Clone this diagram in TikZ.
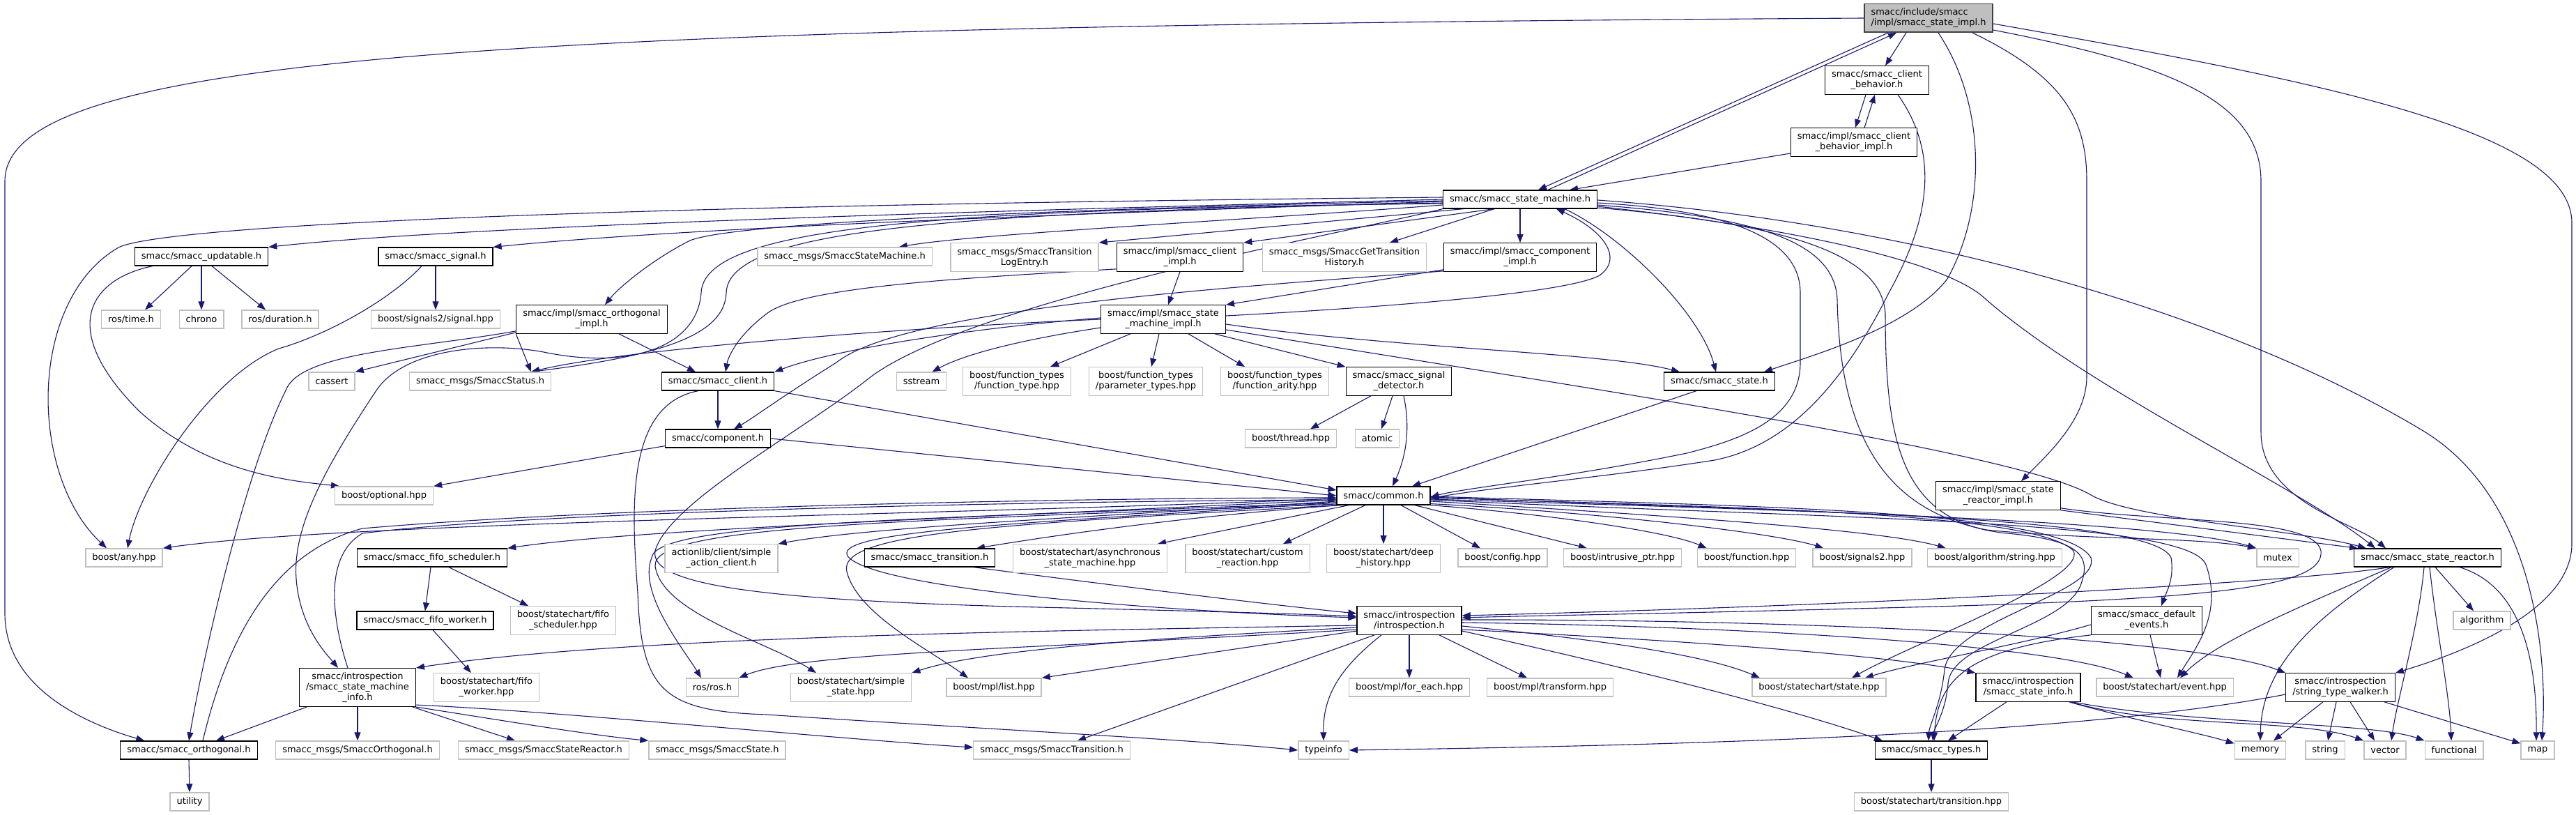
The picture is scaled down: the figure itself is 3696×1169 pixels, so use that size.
\documentclass[tikz,border=0pt]{standalone}
\usepackage{fontspec}
\setmainfont{DejaVu Sans}
\usetikzlibrary{arrows.meta}
\usetikzlibrary{backgrounds}
\definecolor{edgeblue}{HTML}{191970}
\definecolor{extgray}{HTML}{BFBFBF}
\tikzset{hdr/.style = {draw=black, line width=1.2pt, fill=white, inner xsep=9.5pt, inner ysep=1pt,
                       minimum height=26pt, align=center, font=\fontsize{13}{15}\selectfont}}
\tikzset{sys/.style = {hdr, draw=extgray, line width=1.4pt}}
\tikzset{rootbox/.style = {hdr, fill=extgray, draw=black!75, line width=1.5pt, align=left}}
\tikzset{two/.style = {minimum height=40.5pt}}
\tikzset{three/.style = {minimum height=55pt}}
\tikzset{inc/.style = {draw=edgeblue, line width=1.1pt, -{Triangle[length=12pt, width=9pt]}}}

\begin{document}
\begin{tikzpicture}[x=1pt, y=-1pt]
      \useasboundingbox (0,0) rectangle (3696,1169);

      \node[rootbox, two] (root) at (2767,26) {smacc/include/smacc\\/impl/smacc\_state\_impl.h};
      \node[hdr, two] (cb) at (2693,115) {smacc/smacc\_client\\\_behavior.h};
      \node[hdr, two] (cbi) at (2660,204) {smacc/impl/smacc\_client\\\_behavior\_impl.h};
      \node[hdr] (sm) at (2181,286) {smacc/smacc\_state\_machine.h};

      \node[hdr] (upd) at (289,368) {smacc/smacc\_updatable.h};
      \node[hdr] (sig) at (625,368) {smacc/smacc\_signal.h};
      \node[sys] (msm) at (1212,368) {smacc\_msgs/SmaccStateMachine.h};
      \node[sys, two] (tle) at (1470,369) {smacc\_msgs/SmaccTransition\\LogEntry.h};
      \node[hdr, two] (cli) at (1693,369) {smacc/impl/smacc\_client\\\_impl.h};
      \node[sys, two] (gth) at (1929,369) {smacc\_msgs/SmaccGetTransition\\History.h};
      \node[hdr, two] (cmi) at (2181,369) {smacc/impl/smacc\_component\\\_impl.h};

      \node[sys] (rtime) at (188,458) {ros/time.h};
      \node[sys] (chrono) at (289,458) {chrono};
      \node[sys] (rdur) at (402,458) {ros/duration.h};
      \node[sys] (s2sig) at (625,458) {boost/signals2/signal.hpp};
      \node[hdr, two] (orti) at (849,458) {smacc/impl/smacc\_orthogonal\\\_impl.h};
      \node[hdr, two] (smi) at (1669,458) {smacc/impl/smacc\_state\\\_machine\_impl.h};

      \node[sys] (cassert) at (476,547) {cassert};
      \node[sys] (status) at (689,547) {smacc\_msgs/SmaccStatus.h};
      \node[hdr] (client) at (1030,547) {smacc/smacc\_client.h};
      \node[sys] (sstream) at (1322,547) {sstream};
      \node[sys, two] (ftype) at (1459,547) {boost/function\_types\\/function\_type.hpp};
      \node[sys, two] (ptypes) at (1644,547) {boost/function\_types\\/parameter\_types.hpp};
      \node[sys, two] (farity) at (1829,547) {boost/function\_types\\/function\_arity.hpp};
      \node[hdr, two] (sigdet) at (2007,547) {smacc/smacc\_signal\\\_detector.h};
      \node[hdr] (state) at (2467,547) {smacc/smacc\_state.h};

      \node[hdr] (comp) at (1030,629) {smacc/component.h};
      \node[sys] (thread) at (1852,629) {boost/thread.hpp};
      \node[sys] (atomic) at (1976,629) {atomic};

      \node[sys] (optional) at (551,711) {boost/optional.hpp};
      \node[hdr] (common) at (1985,711) {smacc/common.h};
      \node[hdr, two] (srimpl) at (2867,711) {smacc/impl/smacc\_state\\\_reactor\_impl.h};

      \node[sys] (any) at (178,800) {boost/any.hpp};
      \node[hdr] (fifosch) at (620,800) {smacc/smacc\_fifo\_scheduler.h};
      \node[sys, two] (actionlib) at (1035,801) {actionlib/client/simple\\\_action\_client.h};
      \node[hdr] (trans) at (1334,800) {smacc/smacc\_transition.h};
      \node[sys, two] (async) at (1564,801) {boost/statechart/asynchronous\\\_state\_machine.hpp};
      \node[sys, two] (custom) at (1790,801) {boost/statechart/custom\\\_reaction.hpp};
      \node[sys, two] (deep) at (1985,801) {boost/statechart/deep\\\_history.hpp};
      \node[sys] (config) at (2156,800) {boost/config.hpp};
      \node[sys] (intr) at (2328,800) {boost/intrusive\_ptr.hpp};
      \node[sys] (func) at (2506,800) {boost/function.hpp};
      \node[sys] (signals2) at (2672,800) {boost/signals2.hpp};
      \node[sys] (algstr) at (2862,800) {boost/algorithm/string.hpp};
      \node[sys] (mutex) at (3268,800) {mutex};
      \node[hdr] (sreact) at (3483,800) {smacc/smacc\_state\_reactor.h};

      \node[hdr] (fifowork) at (610,890) {smacc/smacc\_fifo\_worker.h};
      \node[sys, two] (bfifosch) at (808,890) {boost/statechart/fifo\\\_scheduler.hpp};
      \node[hdr, two] (intro) at (2022,890) {smacc/introspection\\/introspection.h};
      \node[hdr, two] (defev) at (3080,890) {smacc/smacc\_default\\\_events.h};
      \node[sys] (algorithm) at (3561,890) {algorithm};

      \node[hdr, three] (smin) at (513,986) {smacc/introspection\\/smacc\_state\_machine\\\_info.h};
      \node[sys, two] (bfifowork) at (698,986) {boost/statechart/fifo\\\_worker.hpp};
      \node[sys] (rosh) at (1022,986) {ros/ros.h};
      \node[sys, two] (simple) at (1221,986) {boost/statechart/simple\\\_state.hpp};
      \node[sys] (mpllist) at (1426,986) {boost/mpl/list.hpp};
      \node[sys] (foreach) at (2022,986) {boost/mpl/for\_each.hpp};
      \node[sys] (transform) at (2224,986) {boost/mpl/transform.hpp};
      \node[sys] (bstate) at (2610,986) {boost/statechart/state.hpp};
      \node[hdr, two] (sinfo) at (2910,986) {smacc/introspection\\/smacc\_state\_info.h};
      \node[sys] (event) at (3106,986) {boost/statechart/event.hpp};
      \node[hdr, two] (walker) at (3358,986) {smacc/introspection\\/string\_type\_walker.h};

      \node[hdr] (orth) at (271,1076) {smacc/smacc\_orthogonal.h};
      \node[sys] (morth) at (513,1076) {smacc\_msgs/SmaccOrthogonal.h};
      \node[sys] (msr) at (780,1076) {smacc\_msgs/SmaccStateReactor.h};
      \node[sys] (mstate) at (1029,1076) {smacc\_msgs/SmaccState.h};
      \node[sys] (mtrans) at (1509,1076) {smacc\_msgs/SmaccTransition.h};
      \node[sys] (typeinfo) at (1899,1076) {typeinfo};
      \node[hdr] (types) at (2771,1076) {smacc/smacc\_types.h};
      \node[sys] (memory) at (3243,1076) {memory};
      \node[sys] (string) at (3336,1076) {string};
      \node[sys] (vector) at (3422,1076) {vector};
      \node[sys] (functional) at (3521,1076) {functional};
      \node[sys] (map) at (3641,1076) {map};

      \node[sys] (utility) at (272,1150) {utility};
      \node[sys] (btrans) at (2771,1150) {boost/statechart/transition.hpp};

      \begin{scope}[on background layer]
      \fill[white] (0,0) rectangle (3696,1169);

      \draw[inc] ([xshift=-58pt]root.south) -- ([xshift=26pt]sm.north);
      \draw[inc] ([xshift=40pt]sm.north) -- ([xshift=-46pt]root.south);
      \draw[inc] ([xshift=-32pt]root.south) -- ([xshift=12pt]cb.north);
      \draw[inc] ([xshift=14pt]root.south) .. controls (2850,150) and (2850,300) .. (2794,400) .. controls (2740,470) and (2600,510) .. ([xshift=64pt]state.north);
      \draw[inc] ([xshift=63pt]root.south) .. controls (2960,110) and (2994,170) .. (2994,260) -- (2994,540) .. controls (2994,600) and (2940,650) .. ([xshift=33pt]srimpl.north);
      \draw[inc] ([yshift=-17pt]root.east) .. controls (3100,90) and (3244,140) .. (3244,260) -- (3244,620) .. controls (3244,720) and (3380,750) .. ([xshift=-60pt]sreact.north);
      \draw[inc] ([yshift=-8pt]root.east) .. controls (3350,120) and (3690,190) .. (3690,320) -- (3690,780) .. controls (3690,880) and (3520,940) .. (walker.north east);
      \draw[inc] (root.west) .. controls (700,38) and (7,80) .. (7,260) -- (7,880) .. controls (7,990) and (130,1040) .. ([xshift=35pt]orth.north west);

      \draw[inc] ([xshift=-16pt]cb.south) -- ([xshift=2pt]cbi.north);
      \draw[inc] ([xshift=15pt]cbi.north) -- ([xshift=-3pt]cb.south);
      \draw[inc] ([yshift=-16pt]cbi.west) -- ([xshift=-40pt]sm.north east);
      \draw[inc] ([xshift=30pt]cb.south) .. controls (2790,230) and (2760,330) .. (2710,420) .. controls (2640,560) and (2560,640) .. (2460,660) .. controls (2300,685) and (2130,700) .. ([yshift=-4pt]common.east);

      \draw[inc] (sm.west) .. controls (1600,298) and (700,320) .. (upd.north east);
      \draw[inc] ([yshift=-3pt]sm.west) .. controls (1600,305) and (1000,325) .. (sig.north east);
      \draw[inc] ([yshift=-8pt]sm.west) .. controls (1800,315) and (1400,335) .. ([xshift=-48pt]msm.north east);
      \draw[inc] ([xshift=30pt]sm.south west) -- (tle.north east);
      \draw[inc] ([xshift=-37pt]sm.south) -- (cli.north east);
      \draw[inc] ([xshift=-37pt]sm.south) -- ([xshift=65pt]gth.north);
      \draw[inc] (sm.south) -- (cmi.north);
      \draw[inc] ([yshift=3pt]sm.west) .. controls (800,295) and (230,325) .. (170,355) .. controls (40,430) and (40,680) .. ([xshift=-25pt]any.north);
      \draw[inc] ([yshift=-2pt]sm.west) .. controls (1500,300) and (1050,320) .. (990,345) .. controls (940,370) and (890,410) .. ([xshift=19pt]orti.north);
      \draw[inc] ([yshift=-5pt]sm.west) .. controls (1350,305) and (1045,330) .. (1042,420) .. controls (1040,480) and (950,510) .. ([xshift=73pt]status.north);
      \draw[inc] ([yshift=-6pt]sm.west) .. controls (1300,300) and (1010,330) .. (1006,420) .. controls (1000,500) and (900,530) .. (780,505) .. controls (700,490) and (580,500) .. (540,560) .. controls (460,680) and (420,760) .. (425,830) .. controls (430,900) and (470,940) .. ([xshift=-28pt]smin.north);
      \draw[inc] (sm.south west) .. controls (1950,330) and (1400,430) .. (1250,540) .. controls (1150,620) and (960,720) .. (940,790) .. controls (930,840) and (1100,860) .. (1450,870) .. controls (1700,876) and (1850,880) .. ([yshift=6pt]intro.west);
      \draw[inc] ([xshift=64pt]sm.south) .. controls (2330,340) and (2440,450) .. ([xshift=-5pt]state.north);
      \draw[inc] ([yshift=-5pt]sm.east) .. controls (2450,300) and (2583,330) .. (2583,420) -- (2583,520) .. controls (2583,600) and (2500,630) .. (2420,650) .. controls (2250,685) and (2100,700) .. ([yshift=-2pt]common.east);
      \draw[inc] ([yshift=-8pt]sm.east) .. controls (2500,310) and (2633,340) .. (2636,430) .. controls (2640,620) and (2700,730) .. (2850,760) .. controls (3000,775) and (3150,770) .. (mutex.north west);
      \draw[inc] ([yshift=-12pt]sm.east) .. controls (2550,320) and (2700,360) .. (2705,450) .. controls (2705,640) and (2730,750) .. (2880,765) .. controls (2990,775) and (3000,800) .. (2985,840) .. controls (2960,900) and (2800,920) .. (2795,980) .. controls (2792,1020) and (2775,1045) .. ([xshift=2pt]types.north);
      \draw[inc] ([yshift=-10pt]sm.east) .. controls (2600,330) and (2800,380) .. (2850,430) .. controls (3000,560) and (3300,700) .. ([xshift=-75pt]sreact.north);
      \draw[inc] ([yshift=-1pt]sm.east) .. controls (2750,320) and (3200,450) .. (3480,620) .. controls (3640,720) and (3655,950) .. ([xshift=6pt]map.north);

      \draw[inc] ([yshift=5pt]smi.east) .. controls (2000,440) and (2250,420) .. (2295,395) .. controls (2330,370) and (2300,330) .. ([xshift=52pt]sm.south);
      \draw[inc] ([yshift=-7pt]smi.east) .. controls (2000,500) and (2300,505) .. ([xshift=-57pt]state.north);
      \draw[inc] ([yshift=-15pt]smi.east) .. controls (2300,560) and (2900,650) .. (3000,710) .. controls (3060,745) and (3300,760) .. ([xshift=-88pt]sreact.north);
      \draw[inc] ([yshift=2pt]smi.west) .. controls (1400,470) and (1200,500) .. (client.north east);
      \draw[inc] (smi.west) .. controls (1300,470) and (900,500) .. ([xshift=73pt]status.north);
      \draw[inc] ([yshift=-12pt]smi.west) .. controls (1480,485) and (1390,505) .. ([xshift=-21pt]sstream.north east);
      \draw[inc] ([xshift=-47pt]smi.south) -- ([xshift=48pt]ftype.north);
      \draw[inc] ([xshift=-6pt]smi.south) -- ([xshift=8pt]ptypes.north);
      \draw[inc] ([xshift=36pt]smi.south) -- ([xshift=-43pt]farity.north);
      \draw[inc] ([xshift=-16pt]smi.south east) -- (sigdet.north west);

      \draw[inc] (cli.south) -- ([xshift=7pt]smi.north);
      \draw[inc] ([yshift=4pt]cli.south west) .. controls (1400,398) and (1150,410) .. (1100,450) .. controls (1060,480) and (1045,510) .. ([xshift=11pt]client.north);
      \draw[inc] ([yshift=3pt]cmi.south west) -- (smi.north east);
      \draw[inc] ([yshift=1pt]cmi.south west) .. controls (1800,410) and (1300,440) .. (1200,520) .. controls (1120,570) and (1080,600) .. ([xshift=23pt]comp.north);

      \draw[inc] ([yshift=2pt]orti.south west) -- (cassert.north east);
      \draw[inc] (orti.south west) -- ([xshift=73pt]status.north);
      \draw[inc] ([xshift=39pt]orti.south) -- ([xshift=-32pt]client.north);
      \draw[inc] ([yshift=4pt]orti.south west) .. controls (600,500) and (430,505) .. (410,560) .. controls (350,680) and (290,950) .. (orth.north);

      \draw[inc] ([xshift=-14pt]upd.south) -- ([xshift=20pt]rtime.north);
      \draw[inc] (upd.south) -- (chrono.north);
      \draw[inc] ([xshift=15pt]upd.south) -- ([xshift=-21pt]rdur.north);
      \draw[inc] ([xshift=-70pt]upd.south) .. controls (130,400) and (80,470) .. (200,590) .. controls (300,680) and (420,690) .. ([xshift=-64pt]optional.north);
      \draw[inc] (sig.south) -- (s2sig.north);
      \draw[inc] ([xshift=-20pt]sig.south) .. controls (560,430) and (470,480) .. (400,500) .. controls (300,540) and (200,700) .. ([xshift=5pt]any.north);

      \draw[inc] (client.south) -- (comp.north);
      \draw[inc] (client.south east) -- ([yshift=8pt]common.west);
      \draw[inc] ([xshift=-28pt]client.south) .. controls (900,580) and (905,720) .. (915,850) .. controls (920,990) and (950,1020) .. (1100,1025) .. controls (1400,1045) and (1700,1060) .. (typeinfo.west);
      \draw[inc] ([yshift=3pt]comp.south west) -- (optional.north east);
      \draw[inc] (comp.east) -- (common.west);
      \draw[inc] ([xshift=-40pt]sigdet.south) -- ([xshift=28pt]thread.north);
      \draw[inc] ([xshift=-9pt]sigdet.south) -- ([xshift=6pt]atomic.north);
      \draw[inc] ([xshift=7pt]sigdet.south) .. controls (2025,620) and (2015,660) .. ([xshift=13pt]common.north);
      \draw[inc] ([xshift=-33pt]state.south) -- ([xshift=41pt]common.north);
      \draw[inc] (srimpl.south east) -- ([xshift=-100pt]sreact.north);
      \draw[inc] ([yshift=3pt]srimpl.south east) .. controls (3100,750) and (3320,740) .. (3330,790) .. controls (3335,840) and (3200,860) .. (2700,872) .. controls (2400,880) and (2200,883) .. ([yshift=4pt]intro.east);

      \draw[inc] ([yshift=-4pt]common.west) .. controls (1400,738) and (500,748) .. (any.north east);
      \draw[inc] ([yshift=-6pt]common.west) .. controls (1400,742) and (900,760) .. (fifosch.north east);
      \draw[inc] ([yshift=-8pt]common.west) .. controls (1600,740) and (1250,755) .. (actionlib.north east);
      \draw[inc] ([xshift=7pt]common.south west) .. controls (1700,740) and (1500,770) .. ([xshift=67pt]trans.north);
      \draw[inc] ([xshift=18pt]common.south west) -- ([xshift=-14pt]async.north east);
      \draw[inc] ([xshift=-26pt]common.south) -- ([xshift=51pt]custom.north);
      \draw[inc] (common.south) -- (deep.north);
      \draw[inc] ([xshift=25pt]common.south) -- ([xshift=-32pt]config.north);
      \draw[inc] ([xshift=-23pt]common.south east) -- ([xshift=-51pt]intr.north);
      \draw[inc] (common.south east) .. controls (2250,740) and (2400,765) .. ([xshift=14pt]func.north west);
      \draw[inc] ([yshift=2pt]common.south east) .. controls (2300,735) and (2550,765) .. ([xshift=16pt]signals2.north west);
      \draw[inc] ([yshift=-8pt]common.east) .. controls (2400,740) and (2700,760) .. ([xshift=27pt]algstr.north west);
      \draw[inc] ([yshift=-5pt]common.east) .. controls (2500,730) and (3100,745) .. (mutex.north west);
      \draw[inc] ([yshift=-3pt]common.east) .. controls (2500,728) and (2920,735) .. (2975,790) .. controls (2995,830) and (2750,920) .. ([xshift=47pt]bstate.north);
      \draw[inc] ([yshift=-1pt]common.east) .. controls (2500,726) and (2960,730) .. (3000,800) .. controls (3015,850) and (2800,890) .. (2790,960) .. controls (2785,1010) and (2768,1040) .. ([xshift=-4pt]types.north);
      \draw[inc] ([yshift=-2pt]common.east) .. controls (2600,735) and (3090,740) .. (3115,800) .. controls (3120,830) and (3108,850) .. ([xshift=21pt]defev.north);
      \draw[inc] ([yshift=-6pt]common.east) .. controls (2650,745) and (3140,745) .. (3165,810) .. controls (3190,880) and (3150,930) .. ([xshift=18pt]event.north);
      \draw[inc] ([yshift=-10pt]common.west) .. controls (1500,750) and (1150,760) .. (1225,805) .. controls (1300,850) and (1700,878) .. ([yshift=4pt]intro.west);
      \draw[inc] ([yshift=-10pt]common.west) .. controls (1300,745) and (940,750) .. (935,800) .. controls (915,850) and (980,930) .. ([xshift=-16pt]rosh.north);
      \draw[inc] ([yshift=-12pt]common.west) .. controls (1300,748) and (935,752) .. (940,812) .. controls (950,880) and (1100,920) .. ([xshift=-50pt]simple.north);
      \draw[inc] (common.south west) .. controls (1450,752) and (1200,762) .. (1215,820) .. controls (1230,880) and (1330,930) .. ([xshift=-37pt]mpllist.north);

      \draw[inc] ([xshift=-2pt]fifosch.south) -- (fifowork.north);
      \draw[inc] ([xshift=24pt]fifosch.south) -- ([xshift=-50pt]bfifosch.north);
      \draw[inc] ([xshift=11pt]fifowork.south) -- ([xshift=-22pt]bfifowork.north);
      \draw[inc] ([xshift=63pt]trans.south) .. controls (1600,840) and (1800,865) .. ([yshift=10pt]intro.west);

      \draw[inc] ([xshift=-73pt]smin.south) -- ([xshift=39pt]orth.north);
      \draw[inc] (smin.south) -- (morth.north);
      \draw[inc] ([xshift=-5pt]smin.south east) -- ([xshift=-41pt]msr.north);
      \draw[inc] (smin.south east) .. controls (700,1030) and (850,1055) .. (mstate.north west);
      \draw[inc] ([yshift=3pt]smin.south east) .. controls (800,1020) and (1200,1060) .. ([yshift=4pt]mtrans.west);
      \draw[inc] ([xshift=-14pt]smin.north) .. controls (480,900) and (460,800) .. (520,765) .. controls (800,730) and (1600,718) .. ([yshift=-6pt]common.west);
      \draw[inc] ([xshift=20pt]orth.north) .. controls (330,900) and (400,790) .. (520,758) .. controls (900,725) and (1600,714) .. ([yshift=-3pt]common.west);
      \draw[inc] (orth.south) -- (utility.north);

      \draw[inc] ([yshift=-7pt]intro.west) .. controls (1500,905) and (900,912) .. (smin.north east);
      \draw[inc] ([yshift=-13pt]intro.west) .. controls (1500,930) and (1150,935) .. (rosh.north east);
      \draw[inc] ([yshift=-10pt]intro.west) .. controls (1600,918) and (1400,935) .. (simple.north east);
      \draw[inc] ([yshift=-15pt]intro.west) -- (mpllist.north east);
      \draw[inc] ([xshift=-50pt]intro.south) -- ([xshift=37pt]mtrans.north);
      \draw[inc] ([xshift=-40pt]intro.south) .. controls (1920,960) and (1898,1000) .. (typeinfo.north);
      \draw[inc] (intro.south) -- (foreach.north);
      \draw[inc] ([xshift=43pt]intro.south) -- ([xshift=-33pt]transform.north);
      \draw[inc] ([yshift=-8pt]intro.east) .. controls (2300,918) and (2450,940) .. ([xshift=-85pt]bstate.north);
      \draw[inc] ([yshift=-13pt]intro.east) .. controls (2400,918) and (2700,938) .. (sinfo.north west);
      \draw[inc] ([yshift=-3pt]intro.east) .. controls (2500,898) and (2950,925) .. ([xshift=-45pt]event.north);
      \draw[inc] ([yshift=1pt]intro.east) .. controls (2600,888) and (3150,915) .. (walker.north west);
      \draw[inc] ([yshift=-15pt]intro.east) .. controls (2300,950) and (2550,1010) .. ([xshift=-70pt]types.north);

      \draw[inc] ([xshift=-55pt]sreact.south) .. controls (3300,835) and (2700,868) .. ([yshift=7pt]intro.east);
      \draw[inc] ([xshift=11pt]sreact.south) -- ([xshift=-12pt]algorithm.north);
      \draw[inc] ([xshift=-48pt]sreact.south) .. controls (3330,880) and (3245,950) .. (memory.north);
      \draw[inc] ([xshift=-5pt]sreact.south) .. controls (3470,900) and (3440,1000) .. ([xshift=9pt]vector.north);
      \draw[inc] ([xshift=3pt]sreact.south) .. controls (3495,900) and (3515,1000) .. ([xshift=-4pt]functional.north);
      \draw[inc] ([xshift=46pt]sreact.south) .. controls (3615,840) and (3640,940) .. ([xshift=-2pt]map.north);
      \draw[inc] ([xshift=-52pt]sreact.south) .. controls (3300,870) and (3180,920) .. ([xshift=22pt]event.north);

      \draw[inc] ([yshift=-6pt]defev.west) .. controls (2900,925) and (2750,950) .. ([xshift=66pt]bstate.north);
      \draw[inc] ([xshift=5pt]defev.south) -- ([xshift=-6pt]event.north);
      \draw[inc] (defev.south west) .. controls (2830,930) and (2780,970) .. ([xshift=4pt]types.north);

      \draw[inc] ([xshift=-31pt]sinfo.south) -- ([xshift=24pt]types.north);
      \draw[inc] ([xshift=-17pt]sinfo.south east) .. controls (3050,1030) and (3150,1050) .. ([yshift=-4pt]memory.north west);
      \draw[inc] ([xshift=-15pt]sinfo.south east) .. controls (3100,1045) and (3300,1030) .. (vector.north west);
      \draw[inc] ([xshift=-12pt]sinfo.south east) .. controls (3150,1040) and (3400,1035) .. (functional.north west);

      \draw[inc] ([xshift=-25pt]walker.south) -- ([xshift=19pt]memory.north);
      \draw[inc] ([xshift=-6pt]walker.south) -- ([xshift=4pt]string.north);
      \draw[inc] ([xshift=14pt]walker.south) -- ([xshift=-15pt]vector.north);
      \draw[inc] ([xshift=-16pt]walker.south east) -- ([yshift=-4pt]map.north west);
      \draw[inc] ([yshift=-10pt]walker.west) .. controls (3000,1050) and (2500,1068) .. (typeinfo.east);

      \draw[inc] (types.south) -- (btrans.north);
      \end{scope}
\end{tikzpicture}
\end{document}
